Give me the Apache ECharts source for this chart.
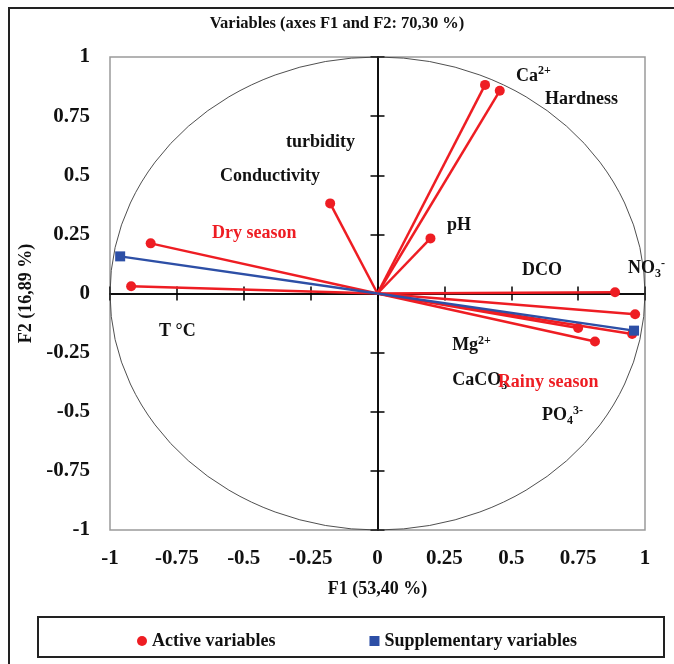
<!DOCTYPE html>
<html>
<head>
<meta charset="utf-8">
<script src="https://cdn.jsdelivr.net/npm/echarts@6/dist/echarts.min.js"></script>
<style>
  html, body { margin: 0; padding: 0; background: #fff; }
  #chart { width: 674px; height: 664px; }
</style>
</head>
<body>
<div id="chart"></div>
<script>
// loadings
const activeF1 = [0.402, 0.457, -0.177, 0.198, -0.848, -0.921, 0.888, 0.963, 0.750, 0.813, 0.952];
const activeF2 = [0.882, 0.857, 0.381, 0.233, 0.212, 0.031, 0.005, -0.088, -0.146, -0.203, -0.171];
const suppF1 = [-0.962, 0.959];
const suppF2 = [0.157, -0.157];

// variable names (rich text for sub/superscripts)
const labelText = [
  "Ca{sup|2+}", "Hardness", "turbidity", "Conductivity", "pH", "Dry season",
  "DCO", "NO{sub|3}{sup|-}", "T °C", "Mg{sup|2+}", "CaCO{sub|3}", "Rainy season", "PO{sub|4}{sup|3-}"
];
const labelF1 = [0.518, 0.626, -0.342, -0.589, 0.260, -0.619, 0.540, 0.936, -0.817, 0.279, 0.279, 0.450, 0.615];
const labelF2 = [0.918, 0.820, 0.638, 0.495, 0.288, 0.254, 0.097, 0.106, -0.161, -0.220, -0.368, -0.376, -0.516];
const seasonLabels = ["Dry season", "Rainy season"];

const tickValues = [-1, -0.75, -0.5, -0.25, 0, 0.25, 0.5, 0.75, 1];

const RED = "#ee1d23";
const BLUE = "#2d4fa6";
const FONT = "Liberation Serif";

const chart = echarts.init(document.getElementById("chart"));

const gridBox = { left: 110, right: 29, top: 57, bottom: 134 };

function labelAxis(dim) {
  return {
    type: "value",
    min: -1,
    max: 1,
    interval: 0.25,
    gridIndex: 0,
    position: dim === "x" ? "bottom" : "left",
    axisLine: { show: false, onZero: false },
    axisTick: { show: false },
    splitLine: { show: false },
    axisLabel: {
      color: "#111",
      fontFamily: FONT,
      fontWeight: "bold",
      fontSize: 21,
      margin: dim === "x" ? 18 : 20,
      formatter: (v) => (tickValues.indexOf(v) >= 0 ? String(v) : ""),
    },
  };
}

function centerAxis(grid, pos) {
  return {
    type: "value",
    min: -1,
    max: 1,
    interval: 0.25,
    gridIndex: grid,
    position: pos,
    axisLine: { show: true, onZero: true, lineStyle: { color: "#000", width: 1.5 } },
    axisTick: { show: true, length: 7, lineStyle: { color: "#000", width: 1.5 } },
    axisLabel: { show: false },
    splitLine: { show: false },
  };
}

const xLabels = labelAxis("x");
xLabels.name = "F1 (53,40 %)";
xLabels.nameLocation = "middle";
xLabels.nameGap = 50;
xLabels.nameTextStyle = { color: "#111", fontFamily: FONT, fontWeight: "bold", fontSize: 18 };

const yLabels = labelAxis("y");
yLabels.name = "F2 (16,89 %)";
yLabels.nameLocation = "middle";
yLabels.nameGap = 68;
yLabels.nameTextStyle = { color: "#111", fontFamily: FONT, fontWeight: "bold", fontSize: 18 };

const series = [];
activeF1.forEach((x, i) => {
  series.push({
    name: "Active variables",
    type: "line",
    xAxisIndex: 0,
    yAxisIndex: 0,
    symbol: "circle",
    symbolSize: 10,
    showAllSymbol: true,
    itemStyle: { color: RED },
    lineStyle: { color: RED, width: 2.5 },
    z: 3,
    silent: true,
    data: [{ value: [0, 0], symbolSize: 0 }, { value: [x, activeF2[i]] }],
  });
});
suppF1.forEach((x, i) => {
  series.push({
    name: "Supplementary variables",
    type: "line",
    xAxisIndex: 0,
    yAxisIndex: 0,
    symbol: "rect",
    symbolSize: 10,
    showAllSymbol: true,
    itemStyle: { color: BLUE },
    lineStyle: { color: BLUE, width: 2.5 },
    z: 4,
    silent: true,
    data: [{ value: [0, 0], symbolSize: 0 }, { value: [x, suppF2[i]] }],
  });
});

// variable names
series.push({
  type: "scatter",
  xAxisIndex: 0,
  yAxisIndex: 0,
  symbolSize: 0,
  silent: true,
  z: 5,
  itemStyle: { opacity: 1 },
  data: labelText.map((t, i) => ({
    value: [labelF1[i], labelF2[i]],
    name: t,
    label: { color: seasonLabels.indexOf(t) >= 0 ? RED : "#111" },
  })),
  label: {
    show: true,
    position: "right",
    distance: 0,
    formatter: (p) => p.name,
    fontFamily: FONT,
    fontWeight: "bold",
    fontSize: 18,
    lineHeight: 22,
    rich: {
      sup: { fontFamily: FONT, fontWeight: "bold", fontSize: 12, lineHeight: 12, verticalAlign: "top" },
      sub: { fontFamily: FONT, fontWeight: "bold", fontSize: 12, lineHeight: 12, verticalAlign: "bottom" },
    },
  },
});

chart.setOption({
  animation: false,
  backgroundColor: "#fff",
  title: {
    text: "Variables (axes F1 and F2: 70,30 %)",
    left: "center",
    top: 10,
    textStyle: { color: "#111", fontFamily: FONT, fontWeight: "bold", fontSize: 16.5 },
  },
  legend: {
    left: 132,
    top: 627,
    itemWidth: 10,
    itemHeight: 10,
    itemGap: 94,
    selectedMode: false,
    textStyle: { color: "#111", fontFamily: FONT, fontWeight: "bold", fontSize: 18 },
    data: [
      { name: "Active variables", icon: "circle", itemStyle: { color: RED } },
      { name: "Supplementary variables", icon: "rect", itemStyle: { color: BLUE } },
    ],
  },
  grid: [
    Object.assign({ show: true, borderColor: "#9a9a9a", borderWidth: 1.5 }, gridBox),
    Object.assign({ show: false }, gridBox),
  ],
  xAxis: [xLabels, centerAxis(0, "top"), centerAxis(1, "bottom")],
  yAxis: [yLabels, centerAxis(0, "right"), centerAxis(1, "left")],
  series: series,
});

// correlation circle and frames, placed through the axes' scales
const finder = { xAxisIndex: 0, yAxisIndex: 0 };
const o = chart.convertToPixel(finder, [0, 0]);
const px = chart.convertToPixel(finder, [1, 0]);
const py = chart.convertToPixel(finder, [0, 1]);
const rx = px[0] - o[0];
const ry = o[1] - py[1];

chart.setOption({
  graphic: [
    {
      type: "circle",
      x: o[0],
      y: o[1],
      scaleY: ry / rx,
      shape: { cx: 0, cy: 0, r: rx },
      style: { fill: null, stroke: "#444", lineWidth: 1, strokeNoScale: true },
      silent: true,
      z: 1,
    },
    {
      type: "rect",
      shape: { x: 9, y: 8, width: 720, height: 720 },
      style: { fill: null, stroke: "#222", lineWidth: 2 },
      silent: true,
    },
    {
      type: "rect",
      shape: { x: 38, y: 617, width: 626, height: 40 },
      style: { fill: null, stroke: "#222", lineWidth: 2 },
      silent: true,
    },
  ],
});
</script>
</body>
</html>
